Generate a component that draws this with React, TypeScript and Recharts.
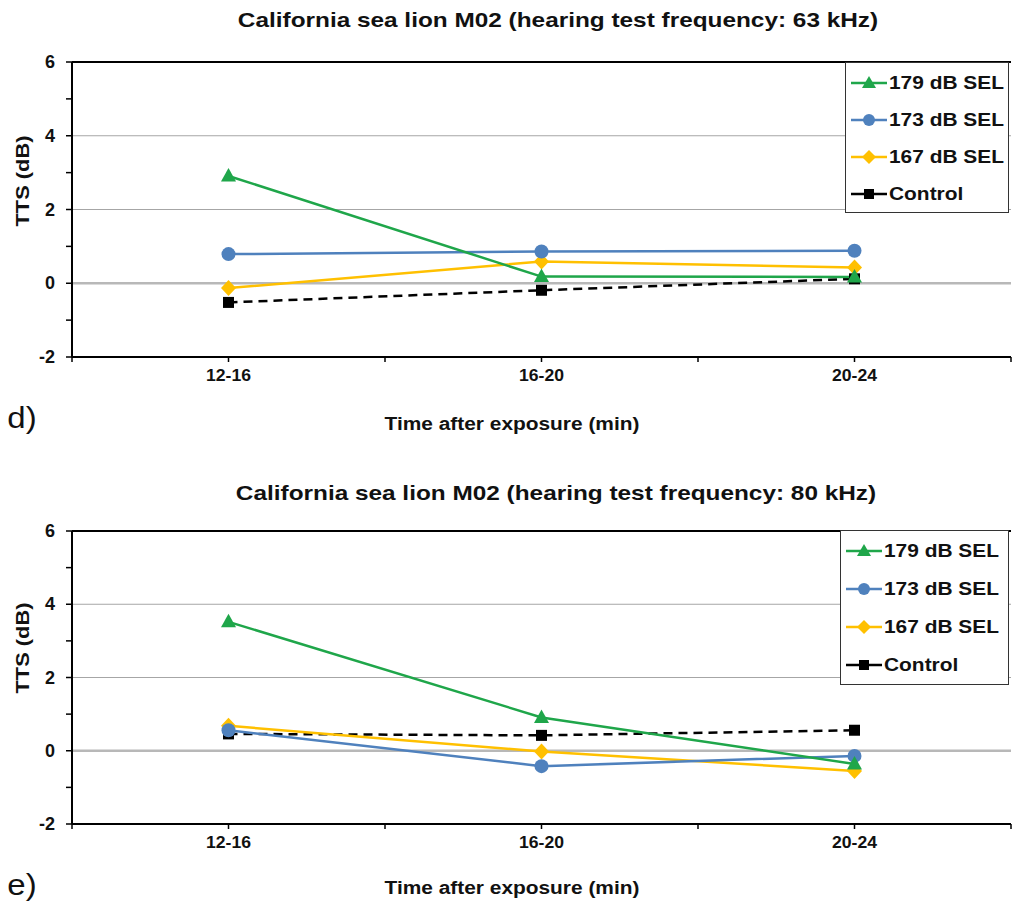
import React from "react"
import { LineChart, Line, XAxis, YAxis, ReferenceLine } from "recharts"

// time windows after exposure
const categories = ["12-16", "16-20", "20-24"]
const seriesNames = ["179 dB SEL", "173 dB SEL", "167 dB SEL", "Control"]
const yTicks = [-2, -1, 0, 1, 2, 3, 4, 5, 6]
const xTicks = [0, 0.5, 1, 1.5, 2, 2.5, 3]

// d) 63 kHz
const d179 = [2.91, 0.18, 0.17]
const d173 = [0.79, 0.86, 0.88]
const d167 = [-0.13, 0.59, 0.43]
const dControl = [-0.52, -0.19, 0.12]

// e) 80 kHz
const e179 = [3.52, 0.91, -0.36]
const e173 = [0.56, -0.42, -0.14]
const e167 = [0.68, -0.02, -0.55]
const eControl = [0.46, 0.42, 0.56]

const GREEN = "#1fa64a"
const BLUE = "#4f81bd"
const YELLOW = "#ffc000"
const BLACK = "#000000"
const FONT = "'Liberation Sans', Arial, sans-serif"

function buildRows(a: number[], b: number[], c: number[], ctrl: number[]) {
  return categories.map((cat, i) => ({
    x: i + 0.5,
    cat,
    s179: a[i],
    s173: b[i],
    s167: c[i],
    control: ctrl[i],
  }))
}

const triangleDot = (color: string) => (p: any) => (
  <path key={p.index} d={`M${p.cx},${p.cy - 8} L${p.cx + 7.5},${p.cy + 5.5} L${p.cx - 7.5},${p.cy + 5.5} Z`} fill={color} />
)
const circleDot = (color: string) => (p: any) => <circle key={p.index} cx={p.cx} cy={p.cy} r={7} fill={color} />
const diamondDot = (color: string) => (p: any) => (
  <path key={p.index} d={`M${p.cx},${p.cy - 8} L${p.cx + 7.5},${p.cy} L${p.cx},${p.cy + 8} L${p.cx - 7.5},${p.cy} Z`} fill={color} />
)
const squareDot = (color: string) => (p: any) => (
  <rect key={p.index} x={p.cx - 5.5} y={p.cy - 5.5} width={11} height={11} fill={color} />
)

const XTick = (props: any) => {
  const { x, y, payload } = props
  if (payload.value % 1 === 0) return null
  const label = categories[Math.floor(payload.value)]
  return (
    <text
      x={x}
      y={y + 17}
      textAnchor="middle"
      fontFamily={FONT}
      fontWeight="bold"
      fontSize={16}
      fill="#111"
      transform={`translate(${x} 0) scale(1.1 1) translate(${-x} 0)`}
    >
      {label}
    </text>
  )
}

const YTick = (props: any) => {
  const { x, y, payload } = props
  if (payload.value % 2 !== 0) return null
  return (
    <text x={x - 9} y={y + 6} textAnchor="end" fontFamily={FONT} fontWeight="bold" fontSize={18} fill="#111">
      {payload.value}
    </text>
  )
}

const legendIcons = [
  (cx: number, cy: number) => <path d={`M${cx},${cy - 7} L${cx + 7},${cy + 5} L${cx - 7},${cy + 5} Z`} fill={GREEN} />,
  (cx: number, cy: number) => <circle cx={cx} cy={cy} r={6} fill={BLUE} />,
  (cx: number, cy: number) => <path d={`M${cx},${cy - 7} L${cx + 7},${cy} L${cx},${cy + 7} L${cx - 7},${cy} Z`} fill={YELLOW} />,
  (cx: number, cy: number) => <rect x={cx - 5} y={cy - 5} width={10} height={10} fill={BLACK} />,
]
const legendColors = [GREEN, BLUE, YELLOW, BLACK]

function LegendBox({ left, top, width, height, gap }: { left: number; top: number; width: number; height: number; gap: number }) {
  return (
    <div
      style={{
        position: "absolute",
        left,
        top,
        width,
        height,
        border: "1.5px solid #333",
        background: "#fff",
        boxSizing: "border-box",
      }}
    >
      {seriesNames.map((name, i) => (
        <div key={name} style={{ position: "absolute", left: 4, top: 8 + i * gap, height: 24, display: "flex", alignItems: "center" }}>
          <svg width={38} height={24}>
            <line x1={1} x2={37} y1={12} y2={12} stroke={legendColors[i]} strokeWidth={2.5} />
            {legendIcons[i](19, 12)}
          </svg>
          <span
            style={{
              fontFamily: FONT,
              fontWeight: "bold",
              fontSize: 19,
              color: "#111",
              marginLeft: 1,
              display: "inline-block",
              transform: "scaleX(1.1)",
              transformOrigin: "left center",
            }}
          >
            {name}
          </span>
        </div>
      ))}
    </div>
  )
}

function Panel({ rows, height, top, bottom }: { rows: any[]; height: number; top: number; bottom: number }) {
  return (
    <LineChart width={1012} height={height} data={rows} margin={{ top, right: 1, bottom, left: 0 }}>
      <XAxis
        type="number"
        dataKey="x"
        domain={[0, 3]}
        ticks={xTicks}
        interval={0}
        height={30}
        tick={<XTick />}
        tickSize={5}
        axisLine={{ stroke: BLACK, strokeWidth: 2 }}
        tickLine={{ stroke: BLACK, strokeWidth: 1.5 }}
      />
      <YAxis
        type="number"
        domain={[-2, 6]}
        ticks={yTicks}
        interval={0}
        width={72}
        tick={<YTick />}
        tickSize={6}
        axisLine={{ stroke: BLACK, strokeWidth: 2 }}
        tickLine={{ stroke: BLACK, strokeWidth: 1.5 }}
      />
      <ReferenceLine y={2} stroke="#a6a6a6" strokeWidth={1} />
      <ReferenceLine y={4} stroke="#a6a6a6" strokeWidth={1} />
      <ReferenceLine y={0} stroke="#b8b8b8" strokeWidth={2.5} />
      <ReferenceLine y={6} stroke={BLACK} strokeWidth={2} />
      <Line dataKey="control" stroke={BLACK} strokeWidth={2.5} strokeDasharray="9 6" dot={squareDot(BLACK)} isAnimationActive={false} />
      <Line dataKey="s167" stroke={YELLOW} strokeWidth={2.5} dot={diamondDot(YELLOW)} isAnimationActive={false} />
      <Line dataKey="s173" stroke={BLUE} strokeWidth={2.5} dot={circleDot(BLUE)} isAnimationActive={false} />
      <Line dataKey="s179" stroke={GREEN} strokeWidth={2.5} dot={triangleDot(GREEN)} isAnimationActive={false} />
    </LineChart>
  )
}

const textBase: React.CSSProperties = {
  position: "absolute",
  fontFamily: FONT,
  fontWeight: "bold",
  color: "#111",
  whiteSpace: "nowrap",
  lineHeight: 1,
}

function Label({
  x,
  y,
  size,
  children,
  rotate,
  weight,
  sx = 1,
}: {
  x: number
  y: number
  size: number
  children: React.ReactNode
  rotate?: boolean
  weight?: string
  sx?: number
}) {
  return (
    <div
      style={{
        ...textBase,
        left: x,
        top: y,
        fontSize: size,
        fontWeight: weight ?? "bold",
        transform: `translate(-50%, -50%)${rotate ? " rotate(-90deg)" : ""} scaleX(${sx})`,
      }}
    >
      {children}
    </div>
  )
}

export default function App() {
  const rowsD = buildRows(d179, d173, d167, dControl)
  const rowsE = buildRows(e179, e173, e167, eControl)
  return (
    <div style={{ position: "absolute", left: 0, top: 0, width: 1012, height: 903, background: "#fff", overflow: "hidden" }}>
      <div style={{ position: "absolute", left: 0, top: 0 }}>
        <Panel rows={rowsD} height={451} top={62} bottom={64} />
      </div>
      <div style={{ position: "absolute", left: 0, top: 451 }}>
        <Panel rows={rowsE} height={452} top={80} bottom={49} />
      </div>

      <Label x={558} y={19} size={21} sx={1.16}>California sea lion M02 (hearing test frequency: 63 kHz)</Label>
      <Label x={22} y={181} size={19} sx={1.15} rotate>TTS (dB)</Label>
      <Label x={512} y={424} size={18} sx={1.16}>Time after exposure (min)</Label>
      <Label x={22} y={418} size={30} sx={1.1} weight="normal">d)</Label>
      <LegendBox left={845} top={62} width={164} height={151} gap={37} />

      <Label x={556} y={492} size={21} sx={1.16}>California sea lion M02 (hearing test frequency: 80 kHz)</Label>
      <Label x={22} y={648} size={19} sx={1.15} rotate>TTS (dB)</Label>
      <Label x={512} y={888} size={18} sx={1.16}>Time after exposure (min)</Label>
      <Label x={22} y={885} size={30} sx={1.1} weight="normal">e)</Label>
      <LegendBox left={840} top={530} width={169} height={155} gap={38} />
    </div>
  )
}
